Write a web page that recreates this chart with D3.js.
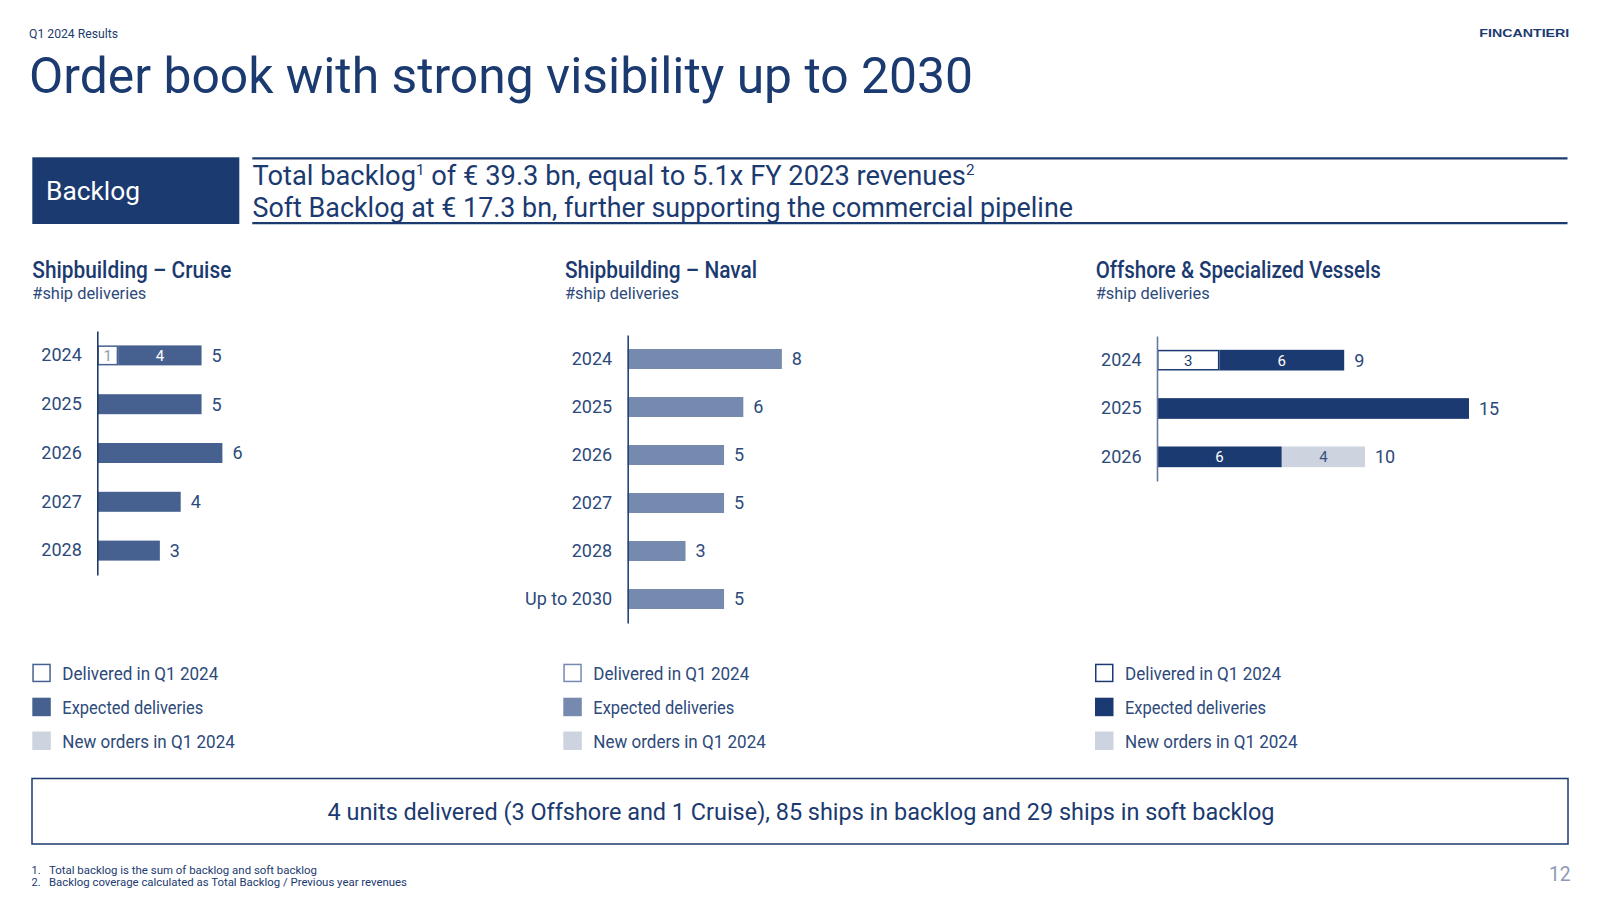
<!DOCTYPE html>
<html>
<head>
<meta charset="utf-8">
<script src="https://cdn.jsdelivr.net/npm/d3@7"></script>
<style>
  html, body { margin: 0; padding: 0; background: #ffffff; }
  svg { display: block; }
</style>
</head>
<body>
<svg id="chart" width="1600" height="900"></svg>
<script>
// ---------------- DATA ----------------
const legendLabels = ["Delivered in Q1 2024", "Expected deliveries", "New orders in Q1 2024"];

const cruiseTitle = "Shipbuilding – Cruise";
const cruiseCategories = ["2024", "2025", "2026", "2027", "2028"];
const cruiseDelivered = [1, 0, 0, 0, 0];
const cruiseExpected = [4, 5, 6, 4, 3];
const cruiseNewOrders = [0, 0, 0, 0, 0];

const navalTitle = "Shipbuilding – Naval";
const navalCategories = ["2024", "2025", "2026", "2027", "2028", "Up to 2030"];
const navalDelivered = [0, 0, 0, 0, 0, 0];
const navalExpected = [8, 6, 5, 5, 3, 5];
const navalNewOrders = [0, 0, 0, 0, 0, 0];

const offshoreTitle = "Offshore & Specialized Vessels";
const offshoreCategories = ["2024", "2025", "2026"];
const offshoreDelivered = [3, 0, 0];
const offshoreExpected = [6, 15, 6];
const offshoreNewOrders = [0, 0, 4];

const subtitle = "#ship deliveries";

// ---------------- STYLE ----------------
const NAVY = "#1b3a70";
const TEXT = "#1d3c6e";
const LABEL = "#2d4a7a";
const LIGHT = "#cdd3df";
const CONDENSED = "'Liberation Sans Narrow', 'Arial Narrow', Roboto, sans-serif";
const SANS = "Roboto, 'Noto Sans', sans-serif";

const svg = d3.select("#chart");

function fit(sel, w) {
  sel.attr("textLength", w).attr("lengthAdjust", "spacingAndGlyphs");
  return sel;
}

// ---------------- HEADER ----------------
fit(svg.append("text").attr("x", 29).attr("y", 37.7)
  .attr("font-family", CONDENSED).attr("font-size", 12).attr("fill", TEXT)
  .text("Q1 2024 Results"), 89);

fit(svg.append("text").attr("x", 1479.3).attr("y", 37.3)
  .attr("font-family", "'Liberation Sans', Arial, sans-serif").attr("font-weight", 700)
  .attr("font-size", 11.5).attr("fill", NAVY)
  .text("FINCANTIERI"), 90);

fit(svg.append("text").attr("x", 29).attr("y", 93)
  .attr("font-family", CONDENSED).attr("font-size", 50).attr("fill", NAVY)
  .text("Order book with strong visibility up to 2030"), 944);

// Backlog banner
svg.append("rect").attr("x", 32.3).attr("y", 157.3).attr("width", 207).attr("height", 66.7).attr("fill", NAVY);
fit(svg.append("text").attr("x", 46).attr("y", 200)
  .attr("font-family", CONDENSED).attr("font-size", 25).attr("fill", "#ffffff")
  .text("Backlog"), 94);

svg.append("line").attr("x1", 252.3).attr("x2", 1567.5).attr("y1", 158.3).attr("y2", 158.3)
  .attr("stroke", NAVY).attr("stroke-width", 2.2);
svg.append("line").attr("x1", 252.3).attr("x2", 1567.5).attr("y1", 223.2).attr("y2", 223.2)
  .attr("stroke", NAVY).attr("stroke-width", 2.2);

const h1 = svg.append("text").attr("x", 252.5).attr("y", 185)
  .attr("font-family", CONDENSED).attr("font-size", 27).attr("fill", NAVY);
h1.append("tspan").text("Total backlog");
h1.append("tspan").attr("font-size", 15).attr("dy", -10).text("1");
h1.append("tspan").attr("dy", 10).text(" of € 39.3 bn, equal to 5.1x FY 2023 revenues");
h1.append("tspan").attr("font-size", 15).attr("dy", -10).text("2");
fit(h1, 722);

fit(svg.append("text").attr("x", 252.5).attr("y", 216.5)
  .attr("font-family", CONDENSED).attr("font-size", 27).attr("fill", NAVY)
  .text("Soft Backlog at € 17.3 bn, further supporting the commercial pipeline"), 820.5);

// ---------------- PANELS ----------------
const panels = [
  { title: cruiseTitle, titleW: 199, cats: cruiseCategories, del: cruiseDelivered, exp: cruiseExpected, nw: cruiseNewOrders,
    color: "#46618f", axisColor: "#1f3b6b", delLabel: "#8d9bb7",
    titleX: 32.3, axisX: 97.3, y0: 331, y1: 575, unit: 20.85, barH: 20, legendX: 32.3 },
  { title: navalTitle, titleW: 192, cats: navalCategories, del: navalDelivered, exp: navalExpected, nw: navalNewOrders,
    color: "#768ab0", axisColor: "#26427a", delLabel: "#8d9bb7",
    titleX: 565, axisX: 627.7, y0: 335, y1: 623, unit: 19.27, barH: 20, legendX: 563.3 },
  { title: offshoreTitle, titleW: 285, cats: offshoreCategories, del: offshoreDelivered, exp: offshoreExpected, nw: offshoreNewOrders,
    color: "#1b3a72", axisColor: "#6478a0", delLabel: NAVY,
    titleX: 1095.7, axisX: 1157, y0: 336, y1: 481, unit: 20.8, barH: 20.7, legendX: 1095 }
];

panels.forEach(p => {
  const g = svg.append("g");

  fit(g.append("text").attr("x", p.titleX).attr("y", 278.3)
    .attr("font-family", SANS).attr("font-weight", 500).attr("font-size", 23).attr("fill", NAVY)
    .text(p.title), p.titleW);
  fit(g.append("text").attr("x", p.titleX).attr("y", 299.3)
    .attr("font-family", SANS).attr("font-size", 17).attr("fill", LABEL)
    .text(subtitle), 114);

  const rows = p.cats.map((c, i) => ({ cat: c, del: p.del[i], exp: p.exp[i], nw: p.nw[i], total: p.del[i] + p.exp[i] + p.nw[i] }));
  const maxT = d3.max(rows, d => d.total);

  const step = (p.y1 - p.y0) / p.cats.length;
  const pin = (step - p.barH) / step;
  const y = d3.scaleBand().domain(p.cats).range([p.y0, p.y1]).paddingInner(pin).paddingOuter(pin / 2);
  const x = d3.scaleLinear().domain([0, maxT]).range([p.axisX, p.axisX + maxT * p.unit]);

  const segs = [];
  rows.forEach(r => {
    let acc = 0;
    [["del", r.del], ["exp", r.exp], ["nw", r.nw]].forEach(([k, v]) => {
      if (v > 0) segs.push({ cat: r.cat, key: k, v, start: acc, end: acc + v, multi: [r.del, r.exp, r.nw].filter(a => a > 0).length > 1 });
      acc += v;
    });
  });

  const fillFor = k => k === "del" ? "#ffffff" : (k === "exp" ? p.color : LIGHT);

  g.selectAll("rect.seg").data(segs).join("rect")
    .attr("class", "seg")
    .attr("x", d => x(d.start) + (d.key === "del" ? 0.75 : 0))
    .attr("y", d => y(d.cat) + (d.key === "del" ? 0.75 : 0))
    .attr("width", d => x(d.end) - x(d.start) - (d.key === "del" ? 1.5 : 0))
    .attr("height", d => y.bandwidth() - (d.key === "del" ? 1.5 : 0))
    .attr("fill", d => fillFor(d.key))
    .attr("stroke", d => d.key === "del" ? p.color : "none")
    .attr("stroke-width", 1.5);

  g.selectAll("text.inner").data(segs.filter(d => d.multi)).join("text")
    .attr("class", "inner")
    .attr("x", d => (x(d.start) + x(d.end)) / 2)
    .attr("y", d => y(d.cat) + y.bandwidth() / 2)
    .attr("dy", "0.36em")
    .attr("text-anchor", "middle")
    .attr("font-family", SANS).attr("font-size", 15)
    .attr("fill", d => d.key === "del" ? p.delLabel : (d.key === "exp" ? "#ffffff" : "#3a5282"))
    .text(d => d.v);

  g.selectAll("text.total").data(rows).join("text")
    .attr("class", "total")
    .attr("x", d => x(d.total) + 10)
    .attr("y", d => y(d.cat) + y.bandwidth() / 2)
    .attr("dy", "0.36em")
    .attr("font-family", SANS).attr("font-size", 18).attr("fill", LABEL)
    .text(d => d.total);

  const ax = g.append("g").attr("transform", `translate(${p.axisX},0)`)
    .call(d3.axisLeft(y).tickSize(0).tickPadding(15.5));
  ax.select(".domain").attr("stroke", p.axisColor).attr("stroke-width", 1.6);
  ax.selectAll("text").attr("font-family", SANS).attr("font-size", 18).attr("fill", LABEL);

  // legend
  const legendTops = [663.7, 697.7, 731.5];
  const legendW = [156, 141, 172.5];
  const lg = g.append("g");
  legendLabels.forEach((lab, i) => {
    const k = ["del", "exp", "nw"][i];
    if (k === "del") {
      lg.append("rect").attr("x", p.legendX + 0.75).attr("y", legendTops[i] + 0.75).attr("width", 17).attr("height", 17)
        .attr("fill", "#ffffff").attr("stroke", p.color).attr("stroke-width", 1.5);
    } else {
      lg.append("rect").attr("x", p.legendX).attr("y", legendTops[i]).attr("width", 18.5).attr("height", 18.5)
        .attr("fill", fillFor(k));
    }
    fit(lg.append("text").attr("x", p.legendX + 30).attr("y", legendTops[i] + 16.3)
      .attr("font-family", SANS).attr("font-size", 17.5).attr("fill", LABEL)
      .text(lab), legendW[i]);
  });
});

// ---------------- FOOTER ----------------
svg.append("rect").attr("x", 32).attr("y", 778.5).attr("width", 1536).attr("height", 65.5)
  .attr("fill", "none").attr("stroke", NAVY).attr("stroke-width", 1.5);
fit(svg.append("text").attr("x", 801).attr("y", 820).attr("text-anchor", "middle")
  .attr("font-family", CONDENSED).attr("font-size", 24).attr("fill", NAVY)
  .text("4 units delivered (3 Offshore and 1 Cruise), 85 ships in backlog and 29 ships in soft backlog"), 947);

const notes = ["Total backlog is the sum of backlog and soft backlog", "Backlog coverage calculated as Total Backlog / Previous year revenues"];
const noteW = [268, 358];
notes.forEach((n, i) => {
  svg.append("text").attr("x", 31.6).attr("y", 873.5 + i * 12)
    .attr("font-family", CONDENSED).attr("font-size", 11).attr("fill", NAVY).text((i + 1) + ".");
  fit(svg.append("text").attr("x", 49).attr("y", 873.5 + i * 12)
    .attr("font-family", CONDENSED).attr("font-size", 11).attr("fill", NAVY).text(n), noteW[i]);
});

fit(svg.append("text").attr("x", 1549).attr("y", 880.7)
  .attr("font-family", CONDENSED).attr("font-size", 20).attr("fill", "#8d9ab8")
  .text("12"), 21.7);
</script>
</body>
</html>
